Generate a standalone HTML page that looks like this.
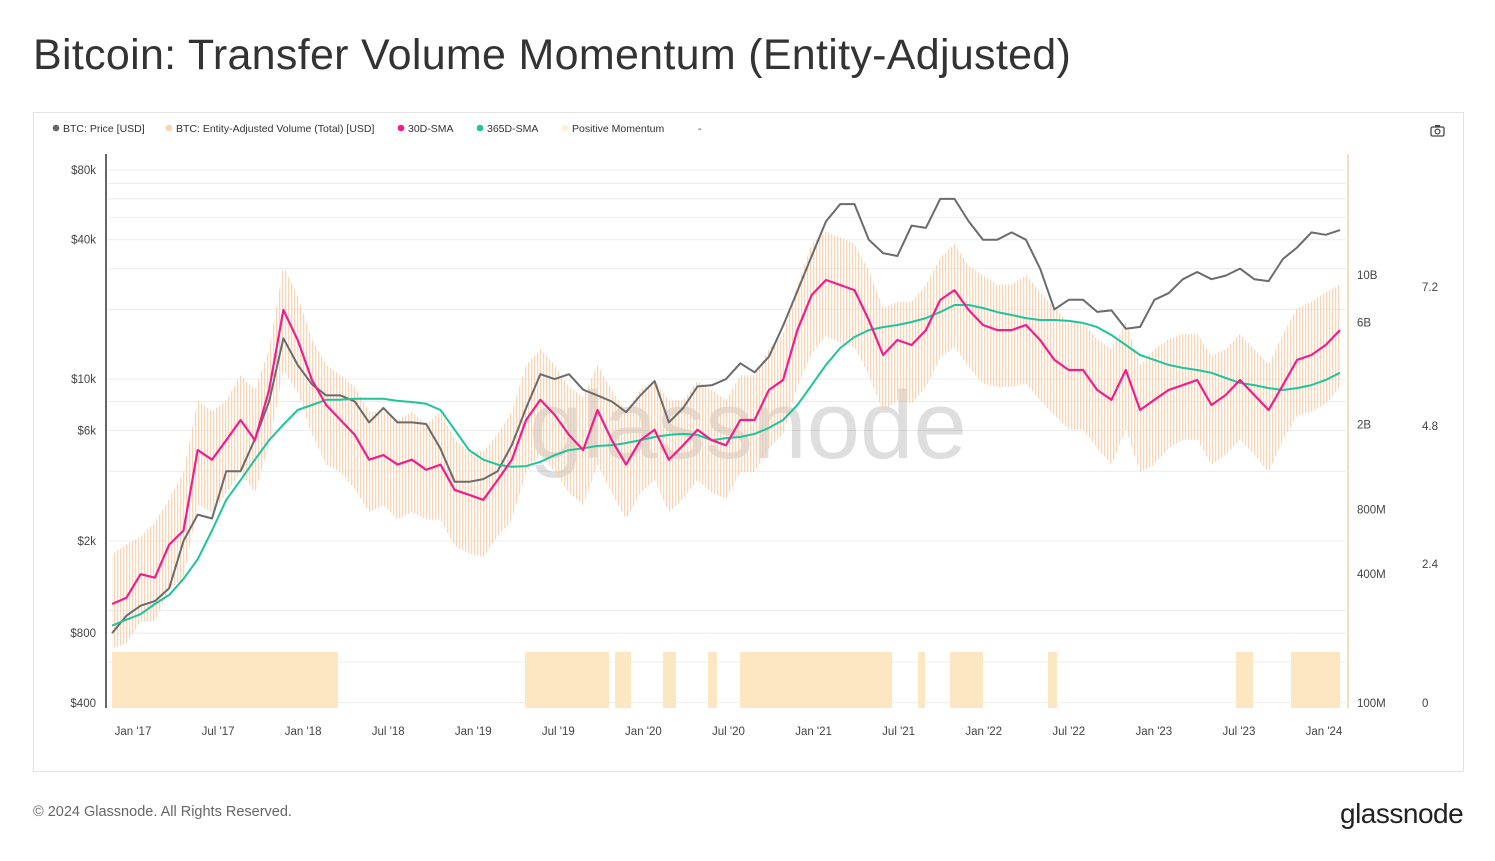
<!DOCTYPE html>
<html><head><meta charset="utf-8"><style>
body{margin:0;background:#fff;width:1495px;height:861px;overflow:hidden;font-family:"Liberation Sans",sans-serif;position:relative}
.t{position:absolute}
</style></head><body>
<div class="t" style="left:33px;top:31px;font-size:43px;color:#333;letter-spacing:0.3px">Bitcoin: Transfer Volume Momentum (Entity-Adjusted)</div>
<div class="t" style="left:33px;top:112px;width:1429px;height:658px;border:1px solid #e3e3e3"></div>
<svg id="c" class="t" style="left:0;top:0" width="1495" height="861"></svg>
<div class="t" style="left:33px;top:804px;font-size:14.5px;color:#666">© 2024 Glassnode. All Rights Reserved.</div>
<div class="t" style="left:1340px;top:798px;font-size:28px;color:#222;letter-spacing:-0.5px">glassnode</div>
<script>
const priceVals=[800,
950,1050,1100,1250,2000,2600,2500,4000,4000,5500,8000,15000,
11500,9500,8500,8500,8000,6500,7500,6500,6500,6400,5000,3600,
3600,3700,4000,5200,7500,10500,10000,10500,9000,8500,8000,7200,
8500,9800,6500,7500,9300,9400,10000,11700,10700,12500,17000,24000,
34000,48000,57000,57000,40000,35000,34000,46000,45000,60000,60000,48000,
40000,40000,43000,40000,30000,20000,22000,22000,19500,19800,16500,16800,
22000,23500,27000,29000,27000,28000,30000,27000,26500,33000,37000,43000,
42000,44000];
const sma30=[0.29,
0.31,0.40,0.385,0.55,0.64,1.52,1.37,1.69,2.10,1.69,2.90,6.86,
4.97,3.23,2.47,2.10,1.79,1.37,1.44,1.30,1.37,1.23,1.30,0.99,
0.94,0.89,1.10,1.37,2.10,2.61,2.22,1.79,1.52,2.34,1.69,1.30,
1.69,1.89,1.37,1.60,1.89,1.69,1.60,2.10,2.10,2.90,3.23,5.53,
8.06,9.48,8.98,8.5,6.16,4.23,4.97,4.71,5.53,7.64,8.5,6.86,
5.84,5.53,5.53,5.84,4.97,4.01,3.60,3.60,2.90,2.61,3.60,2.34,
2.61,2.90,3.06,3.23,2.47,2.75,3.23,2.75,2.34,3.06,4.01,4.23,
4.71,5.53];
const sma365=[0.23,
0.245,0.26,0.29,0.32,0.38,0.47,0.64,0.89,1.10,1.37,1.69,2.0,
2.34,2.47,2.61,2.61,2.64,2.64,2.64,2.58,2.55,2.50,2.34,1.89,
1.52,1.37,1.30,1.27,1.28,1.34,1.44,1.52,1.55,1.59,1.60,1.64,
1.69,1.75,1.79,1.81,1.79,1.69,1.73,1.75,1.81,1.93,2.10,2.47,
3.06,3.80,4.56,5.13,5.53,5.71,5.84,6.03,6.29,6.71,7.24,7.24,
7.01,6.71,6.50,6.29,6.16,6.16,6.10,5.97,5.71,5.24,4.71,4.23,
4.01,3.80,3.68,3.60,3.49,3.30,3.13,3.06,2.96,2.90,2.96,3.06,
3.23,3.49];
const volHigh=[0.5,
0.55,0.6,0.7,0.9,1.2,2.6,2.3,2.6,3.4,2.9,4.5,11,
8,5,3.8,3.4,3,2.3,2.3,2.1,2.3,2,2.3,1.7,
1.5,1.5,1.8,2.3,3.8,4.5,3.8,3,2.7,3.8,2.9,2.3,
2.9,3.2,2.6,2.6,3.2,2.9,2.6,3.4,3.4,4.5,5.3,9,
14,16,15,14,10.5,7,7.5,7.5,9,12,14,11,
10,9,9,10,8.3,7,6,6,5,4.5,6,3.8,
4.5,5,5.3,5.3,4.2,4.5,5.3,4.5,3.8,5.3,7,7.5,
8.3,9];
const volLow=[0.18,
0.19,0.24,0.24,0.34,0.38,0.84,0.78,0.96,1.2,0.96,1.6,3.6,
2.8,1.8,1.3,1.2,1,0.78,0.84,0.72,0.78,0.72,0.72,0.54,
0.5,0.48,0.6,0.72,1.2,1.45,1.2,0.96,0.84,1.3,0.96,0.72,
0.96,1.1,0.78,0.9,1.1,0.96,0.9,1.2,1.2,1.55,1.8,3,
4.3,5.2,4.8,4.6,3.4,2.3,2.6,2.5,3,4.1,4.6,3.7,
3.1,3,3,3.1,2.6,2.2,1.9,1.9,1.55,1.3,1.9,1.2,
1.3,1.55,1.7,1.7,1.3,1.45,1.7,1.45,1.2,1.7,2.2,2.3,
2.5,3];
const momStart=[2016.877,2019.304,2019.833,2020.115,2020.380,2020.568,2021.614,2021.802,2022.378,2023.483,2023.806];
const momEnd=[2018.205,2019.798,2019.927,2020.191,2020.432,2021.461,2021.655,2021.996,2022.431,2023.583,2024.094];
const priceTicks=[80000,40000,10000,6000,2000,800,400];
const priceTickLabels=['$80k','$40k','$10k','$6k','$2k','$800','$400'];
const volTicks=[10,6,2,0.8,0.4,0.1];
const volTickLabels=['10B','6B','2B','800M','400M','100M'];
const momTickLabels=['7.2','4.8','2.4','0'];
const momTickY=[287,426,564,703];
const xTickLabels=["Jan '17","Jul '17","Jan '18","Jul '18","Jan '19","Jul '19","Jan '20","Jul '20","Jan '21","Jul '21","Jan '22","Jul '22","Jan '23","Jul '23","Jan '24"];

const svg=document.getElementById('c');const NS='http://www.w3.org/2000/svg';
function mk(t,a,p){const e=document.createElementNS(NS,t);for(const k in a)e.setAttribute(k,a[k]);(p||svg).appendChild(e);return e;}
const X=t=>133+(t-2017)*170.14;
const YP=p=>170+Math.log2(80000/p)*69.7;
const YV=v=>275+Math.log10(10/v)*214;
const T=i=>2016.877+i*(2024.094-2016.877)/(priceVals.length-1);

const defs=mk('defs',{});
const pat=mk('pattern',{id:'st',width:3,height:10,patternUnits:'userSpaceOnUse'},defs);
mk('rect',{x:0,y:0,width:1.3,height:10,fill:'#f8c9a2','fill-opacity':0.8},pat);

const gridVals=[80000,70000,60000,50000,40000,30000,20000,10000,8000,6000,4000,2000,1000,800,600,400];
gridVals.forEach(g=>{const l=mk('line',{x1:108,x2:1346,y1:YP(g),y2:YP(g),stroke:'#ececec','stroke-width':1});
});

momStart.forEach((s,i)=>{const r=mk('rect',{x:X(s),y:652,width:X(momEnd[i])-X(s),height:56,fill:'#fde7c3'});
});

const wm=mk('text',{x:748,y:458,'text-anchor':'middle','font-size':96,fill:'#000','fill-opacity':0.13,'font-family':'Liberation Sans, sans-serif'});
wm.textContent='glassnode';

let d='';volHigh.forEach((v,i)=>{d+=(i?'L':'M')+X(T(i)).toFixed(1)+','+YV(v).toFixed(1);});
for(let i=volLow.length-1;i>=0;i--)d+='L'+X(T(i)).toFixed(1)+','+YV(volLow[i]).toFixed(1);
const band=mk('path',{d:d+'Z',fill:'url(#st)'});


function line(arr,fy,col,w,name){let p='';arr.forEach((v,i)=>{p+=(i?'L':'M')+X(T(i)).toFixed(1)+','+fy(v).toFixed(1);});
const e=mk('path',{d:p,fill:'none',stroke:col,'stroke-width':w,'stroke-linejoin':'round'});
}
line(priceVals,YP,'#6b6b6b',2,'btc-price-line');
line(sma365,YV,'#1fc49a',2,'sma-365d-line');
line(sma30,YV,'#ee1f8c',2.2,'sma-30d-line');

const ax=mk('line',{x1:106,x2:106,y1:154,y2:708,stroke:'#666','stroke-width':2});
const ax2=mk('line',{x1:1348,x2:1348,y1:154,y2:708,stroke:'#f6dcc2','stroke-width':2});
priceTicks.forEach((p,i)=>{const t=mk('text',{x:96,y:YP(p)+4,'text-anchor':'end','font-size':11.5,fill:'#444'});t.textContent=priceTickLabels[i];
});
volTicks.forEach((v,i)=>{const t=mk('text',{x:1357,y:YV(v)+4,'font-size':11.5,fill:'#444'});t.textContent=volTickLabels[i];
});
momTickLabels.forEach((s,i)=>{const t=mk('text',{x:1422,y:momTickY[i]+4,'font-size':11.5,fill:'#444'});t.textContent=s;
});
xTickLabels.forEach((s,i)=>{const t=mk('text',{x:X(2017+i/2),y:735,'text-anchor':'middle','font-size':11.5,fill:'#444'});t.textContent=s;
});

const legItems=[['BTC: Price [USD]','#666',53],['BTC: Entity-Adjusted Volume (Total) [USD]','#fbd3b1',166],['30D-SMA','#ee1f8c',398],['365D-SMA','#1fc49a',477],['Positive Momentum','#fdf0dc',562]];
legItems.forEach(it=>{const g=mk('g',{});
mk('circle',{cx:it[2]+3,cy:128,r:3.3,fill:it[1]},g);
const t=mk('text',{x:it[2]+10,y:132,'font-size':10.5,fill:'#333'},g);t.textContent=it[0];});
const dash=mk('text',{x:698,y:132,'font-size':10.5,fill:'#333'});dash.textContent='-';
const cam=mk('g',{});
mk('rect',{x:1431,y:127,width:13,height:9,rx:1.5,fill:'none',stroke:'#444','stroke-width':1.3},cam);
mk('rect',{x:1435,y:125,width:5,height:2,fill:'#444'},cam);
mk('circle',{cx:1437.5,cy:131.5,r:2.4,fill:'none',stroke:'#444','stroke-width':1.2},cam);
</script>
</body></html>
